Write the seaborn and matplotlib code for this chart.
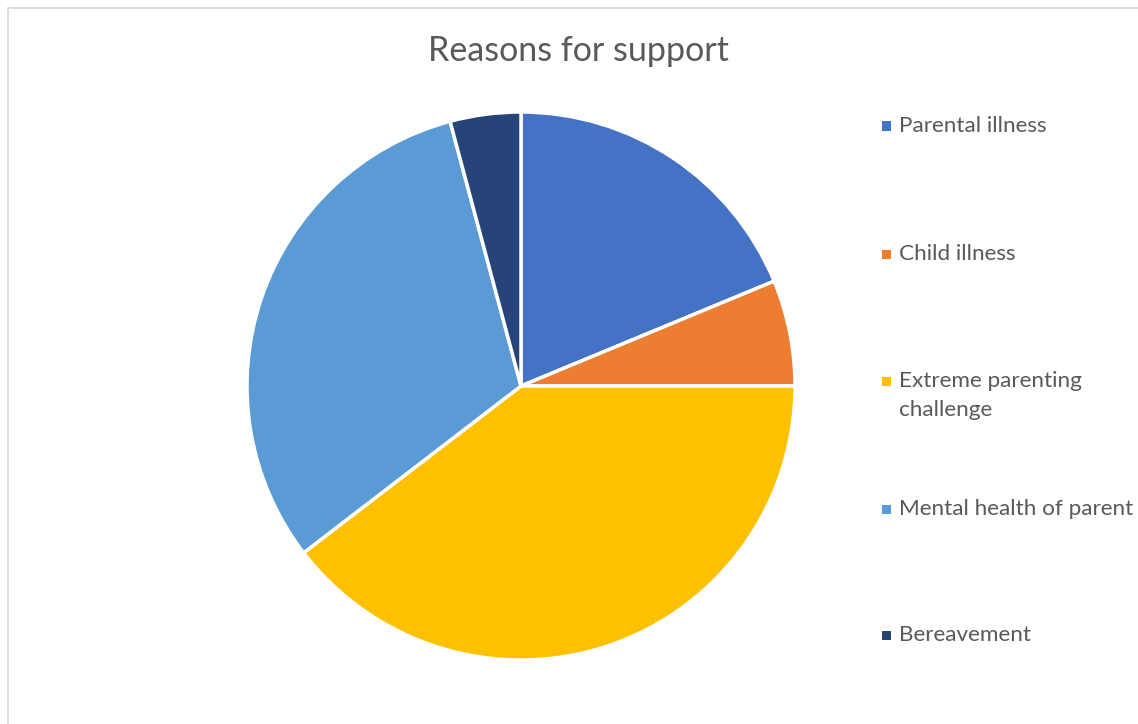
import matplotlib
matplotlib.use("Agg")
import matplotlib.pyplot as plt
import seaborn as sns
from matplotlib.patches import Rectangle

categories = ["Parental illness", "Child illness", "Extreme parenting\nchallenge",
              "Mental health of parent", "Bereavement"]
values = [9, 3, 19, 15, 2]
colors = ["#4472C4", "#ED7D31", "#FFC000", "#5B9BD5", "#264478"]

sns.set_theme(style="white")
plt.rcParams['font.family'] = ['Lato', 'DejaVu Sans']

W, H = 1138, 724
fig = plt.figure(figsize=(W / 100, H / 100), dpi=100)
fig.patch.set_facecolor("white")

# chart border (only top/left visible in the crop)
fig.add_artist(Rectangle((7.5 / W, -0.5), 2, 1.5 - 7.5 / H, transform=fig.transFigure,
                         fill=False, edgecolor="#D9D9D9", linewidth=1.3))

cx, cy, r = 521, 386, 274
ax = fig.add_axes([(cx - r) / W, (H - cy - r) / H, 2 * r / W, 2 * r / H])
pal = sns.color_palette(colors)
wedges, _ = ax.pie(values, colors=pal, startangle=90, counterclock=False,
                   wedgeprops=dict(edgecolor="white", linewidth=2.5, antialiased=True))
ax.set_xlim(-1, 1)
ax.set_ylim(-1, 1)
ax.set_aspect("auto")
ax.axis("off")

fig.text(578 / W, 1 - 51 / H, "Reasons for support", ha="center", va="center",
         fontsize=24.5, color="#595959")

# legend (manual layout, like the Office legend: marker beside first line)
row_y = [126, 254, 381, 509, 635]
line_gap = 29
sq = 9
for lab, col, y in zip(categories, pal, row_y):
    fig.add_artist(Rectangle(((882) / W, 1 - (y + sq / 2) / H), sq / W, sq / H,
                             transform=fig.transFigure, facecolor=col, edgecolor="none"))
    for k, line in enumerate(lab.split("\n")):
        fig.text(899 / W, 1 - (y + k * line_gap) / H, line, ha="left", va="center",
                 fontsize=16.2, color="#595959")

fig.savefig("out.png", dpi=100, facecolor="white")
